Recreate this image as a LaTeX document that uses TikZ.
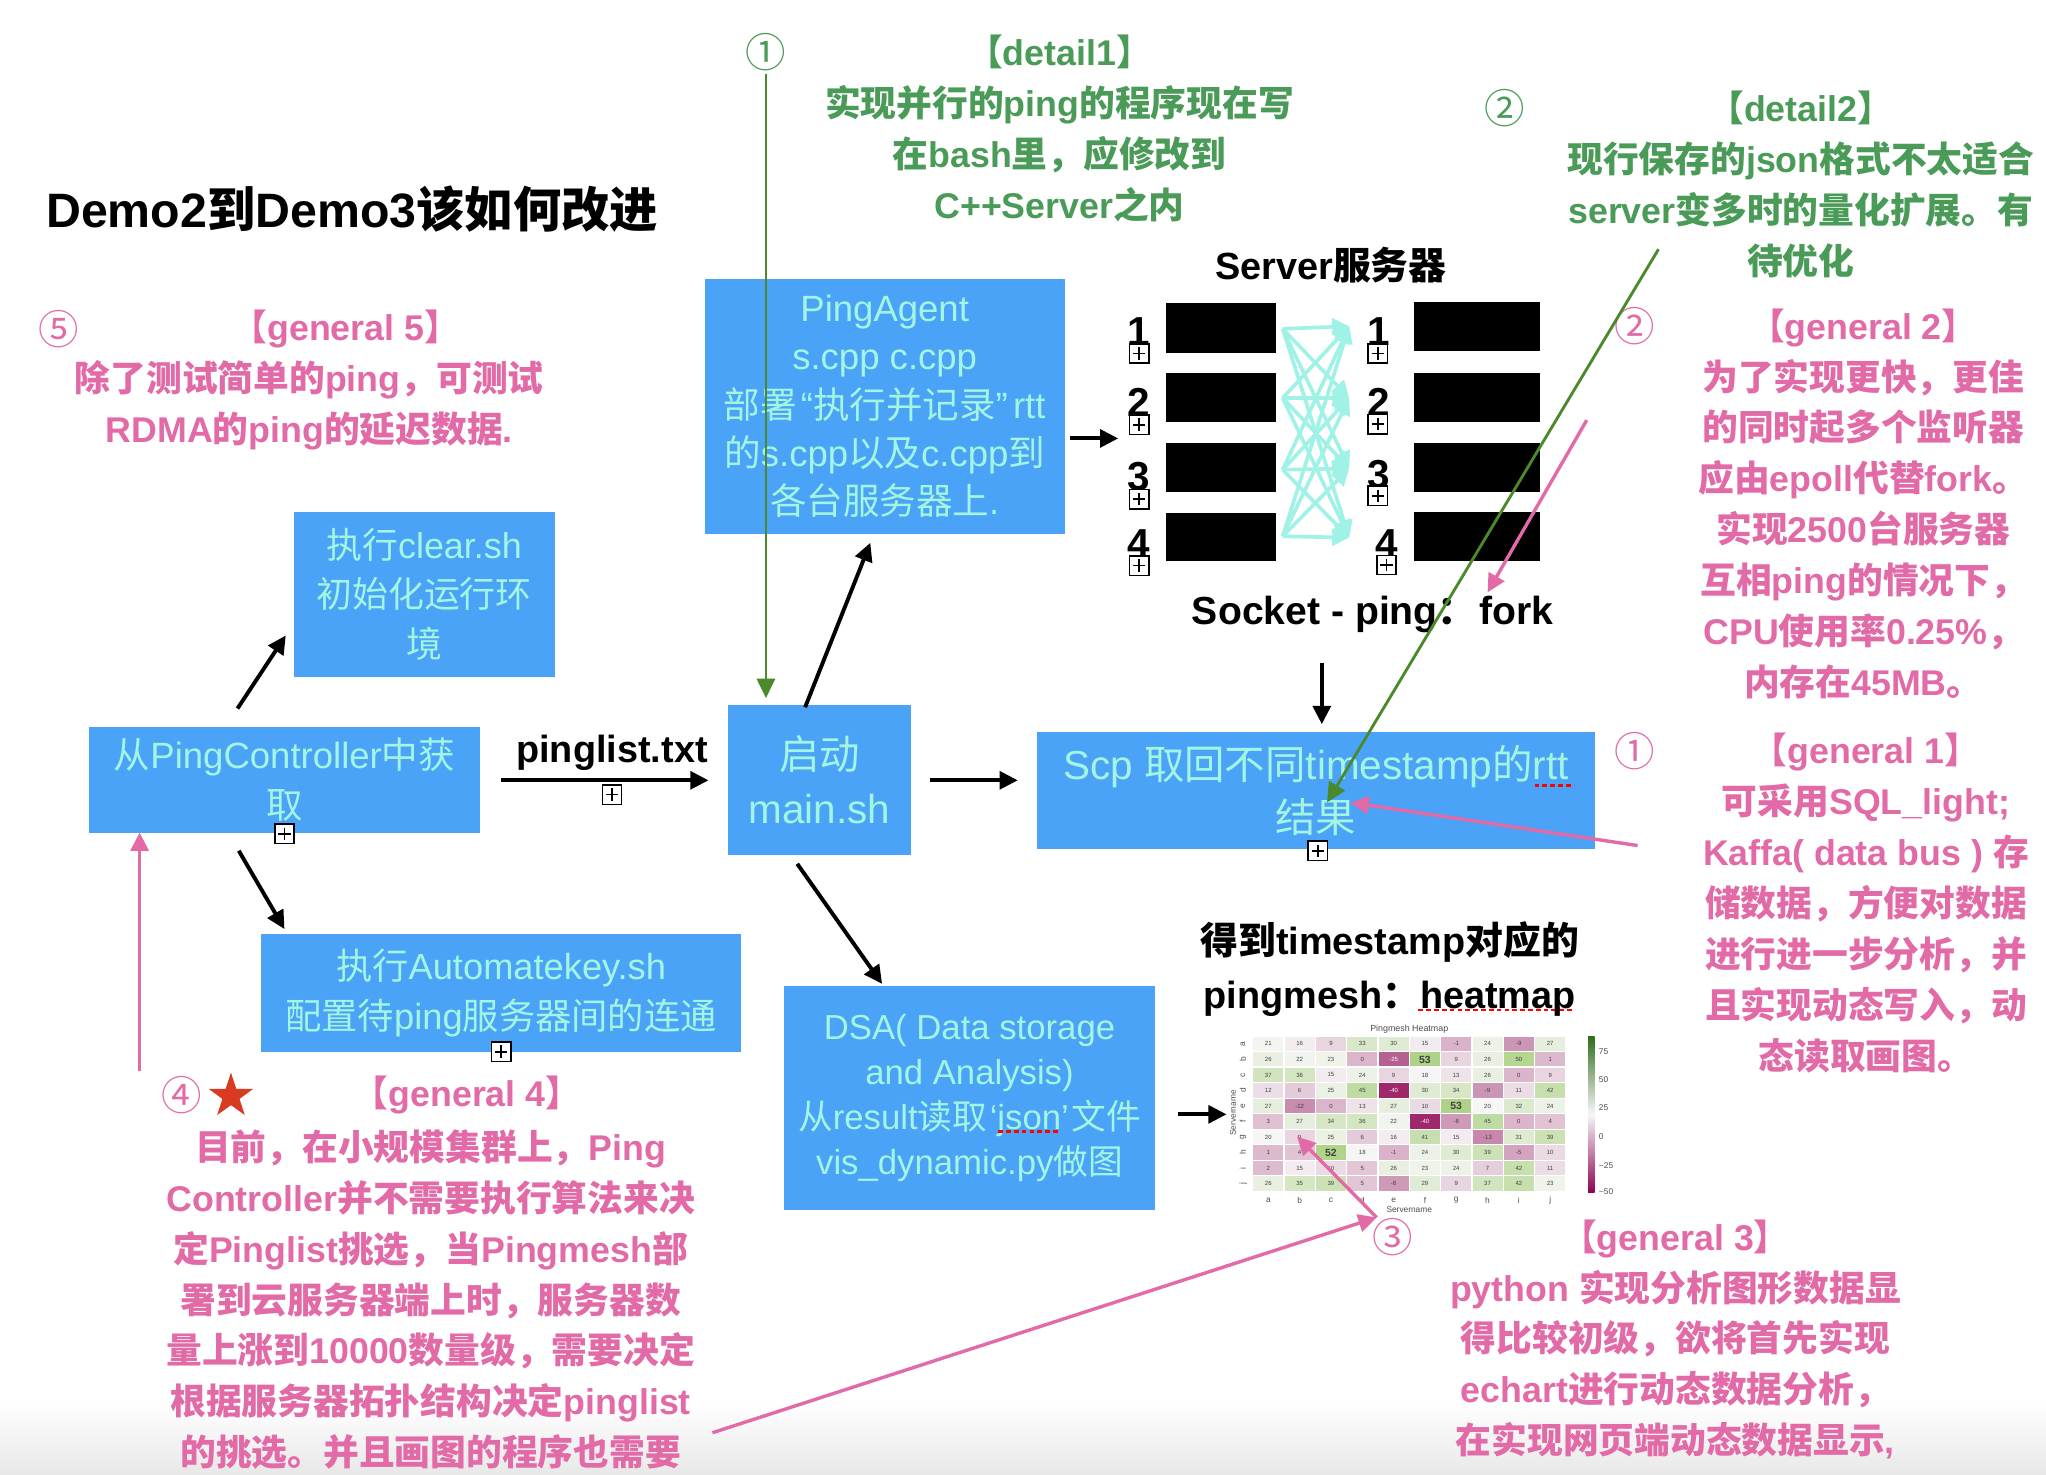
\documentclass[tikz,border=0pt]{standalone}
\usepackage{fontspec}
\setmainfont{Liberation Sans}
\newfontfamily\cjkfam{Noto Sans CJK SC}
\newfontfamily\latfam{Liberation Sans}
\usetikzlibrary{arrows.meta,shapes.geometric}
\XeTeXinterchartokenstate=1
\newXeTeXintercharclass\cjkcls
\newcount\cjkc
\newcommand\setcjkrange[2]{\cjkc=#1\relax\loop\XeTeXcharclass\cjkc=\cjkcls\relax\ifnum\cjkc<#2\relax\advance\cjkc by 1\relax\repeat}
\setcjkrange{"4E00}{"9FFF}
\setcjkrange{"3000}{"303F}
\setcjkrange{"FF00}{"FFEF}
\setcjkrange{"2460}{"2473}
\XeTeXcharclass"2018=0 \XeTeXcharclass"2019=0 \XeTeXcharclass"201C=0 \XeTeXcharclass"201D=0
\XeTeXinterchartoks 0 \cjkcls = {\cjkfam}
\XeTeXinterchartoks 4095 \cjkcls = {\cjkfam}
\XeTeXinterchartoks \cjkcls 0 = {\latfam}
\XeTeXinterchartoks \cjkcls 4095 = {\latfam}
\definecolor{boxblue}{HTML}{4AA3F6}
\definecolor{boxtext}{HTML}{A2F5E1}
\definecolor{notegreen}{HTML}{4A9A58}
\definecolor{linegreen}{HTML}{4A8A2C}
\definecolor{notepink}{HTML}{E16AA7}
\definecolor{arrowcyan}{HTML}{A0F2E6}
\definecolor{starred}{HTML}{D93A22}
\definecolor{hmwhite}{HTML}{F7F7F7}
\definecolor{hmpos}{HTML}{7FBC41}
\definecolor{hmneg}{HTML}{8E0152}
\definecolor{hmdarkpos}{HTML}{2F6D1C}
\definecolor{hmmidpos}{HTML}{A6D273}
\definecolor{hmmidneg}{HTML}{DE77AE}
\begin{document}
\begin{tikzpicture}[x=0.5pt,y=-0.5pt,
  bluebox/.style={fill=boxblue, text=boxtext, align=center, inner sep=0pt},
  note/.style={align=center, inner sep=0pt, font=\bfseries\fontsize{13.7}{19.5}\selectfont},
  pinknote/.style={note, text=notepink},
  greennote/.style={note, text=notegreen},
  blacklabel/.style={align=center, inner sep=0pt, font=\bfseries\fontsize{14.5}{20.5}\selectfont},
  circ/.style={inner sep=0pt, font=\fontsize{15.5}{15.5}\selectfont},
  digit/.style={inner sep=0pt, font=\bfseries\fontsize{15.5}{15.5}\selectfont},
  srv/.style={fill=black, inner sep=0pt},
  arr/.style={line width=1.5pt, -{Triangle[length=7pt,width=6.8pt]}},
  pinkarr/.style={draw=notepink, line width=1.3pt, -{Triangle[length=7pt,width=6.8pt]}},
  greenarr/.style={draw=linegreen, line width=1.1pt, -{Triangle[length=7.5pt,width=7pt]}},
  cyanarr/.style={draw=arrowcyan, line width=1.4pt, -{Triangle[length=6.5pt,width=6.5pt]}},
  plusbox/.style={draw, line width=0.6pt, fill=white, minimum size=7.4pt, inner sep=0pt,
    path picture={\draw[line width=0.6pt] ([yshift=-1.3pt]path picture bounding box.north) -- ([yshift=1.3pt]path picture bounding box.south)
      ([xshift=1.3pt]path picture bounding box.west) -- ([xshift=-1.3pt]path picture bounding box.east);}},
  spell/.style={draw=red, line width=1.1pt, dash pattern=on 1.8pt off 1.2pt},
  tick/.style={inner sep=0pt, text=black!70, font=\fontsize{3.2}{3.6}\selectfont},
]
\useasboundingbox (0,0) rectangle (1568,1130);
\shade[top color=white,bottom color=black!9] (0,1075) rectangle (1568,1130);

% title
\node[anchor=west, inner sep=0pt, font=\bfseries\fontsize{18.5}{20}\selectfont] (title) at (35,160) {Demo2到Demo3该如何改进};

% blue boxes
\node[bluebox, minimum width=138pt, minimum height=97.5pt, font=\fontsize{14}{18.5}\selectfont] (agent) at (678,311.5)
  {PingAgent\\s.cpp c.cpp\\部署\kern1.5pt“执行并记录”\kern2pt rtt\\的s.cpp以及c.cpp到\\各台服务器上.};
\node[bluebox, minimum width=100pt, minimum height=63.5pt, font=\fontsize{13.75}{19}\selectfont] (clear) at (325,455.5)
  {执行clear.sh\\初始化运行环\\境};
\node[bluebox, minimum width=150pt, minimum height=40.5pt, font=\fontsize{14}{19.5}\selectfont] (ctrl) at (218,597.5)
  {从PingController中获\\取};
\node[bluebox, minimum width=184pt, minimum height=45pt, font=\fontsize{13.9}{19.5}\selectfont] (auto) at (384,761)
  {执行Automatekey.sh\\配置待ping服务器间的连通};
\node[bluebox, minimum width=70pt, minimum height=57.5pt, font=\fontsize{15.5}{20.5}\selectfont] (main) at (628,597.5)
  {启动\\main.sh};
\node[bluebox, minimum width=213.5pt, minimum height=45pt, font=\fontsize{15.5}{20.5}\selectfont] (scp) at (1008.5,606)
  {Scp 取回不同timestamp的rtt\\结果};
\node[bluebox, minimum width=142pt, minimum height=85.5pt, font=\fontsize{13.3}{17.2}\selectfont] (dsa) at (743,841.5)
  {DSA( Data storage\\and Analysis)\\从result读取\kern1pt‘json’\kern1pt文件\\vis\_dynamic.py做图};

% spell-check underlines
\draw[spell] (1176,602) -- (1206,602);
\draw[spell] (765,867) -- (811,867);
\draw[spell] (1087,774) -- (1207,774);

% servers
\node[blacklabel] (srvtitle) at (1020,203) {Server服务器};
\node[srv, minimum width=42pt, minimum height=19.2pt] (sl1) at (935.5,251.2) {};
\node[srv, minimum width=42pt, minimum height=18.8pt] (sl2) at (935.5,304.5) {};
\node[srv, minimum width=42pt, minimum height=18.8pt] (sl3) at (935.5,358.2) {};
\node[srv, minimum width=42pt, minimum height=18.5pt] (sl4) at (935.5,411.5) {};
\node[srv, minimum width=48.5pt, minimum height=18.8pt] (sr1) at (1132,250.2) {};
\node[srv, minimum width=48.5pt, minimum height=18.8pt] (sr2) at (1132,304.4) {};
\node[srv, minimum width=48.5pt, minimum height=18.8pt] (sr3) at (1132,358.2) {};
\node[srv, minimum width=48.5pt, minimum height=18.8pt] (sr4) at (1132,411.2) {};
\node[digit, anchor=base] (dl1) at (873,265) {1};
\node[digit, anchor=base] (dl2) at (873,319) {2};
\node[digit, anchor=base] (dl3) at (873,376) {3};
\node[digit, anchor=base] (dl4) at (873,427) {4};
\node[digit, anchor=base] (dr1) at (1057,265) {1};
\node[digit, anchor=base] (dr2) at (1057,319) {2};
\node[digit, anchor=base] (dr3) at (1057,374) {3};
\node[digit, anchor=base] (dr4) at (1063,427) {4};
\coordinate (cl1) at (983,252); \coordinate (cl2) at (983,305);
\coordinate (cl3) at (983,360); \coordinate (cl4) at (983,411);
\coordinate (cr1) at (1034,250); \coordinate (cr2) at (1034,305);
\coordinate (cr3) at (1034,359); \coordinate (cr4) at (1034,412);
\foreach \i in {1,...,4}{\foreach \j in {1,...,4}{\draw[cyanarr] (cl\i) -- (cr\j);}}
\node[blacklabel, font=\bfseries\fontsize{15}{20}\selectfont] (socket) at (1052,471) {Socket - ping：\kern1pt fork};

% black labels
\node[blacklabel] (pinglist) at (469,577) {pinglist.txt};
\node[blacklabel] (heatlabel) at (1065,742.5) {得到timestamp对应的\\pingmesh：heatmap};

% notes green
\node[circ, text=notegreen] (g1) at (587,40) {①};
\node[greennote] (detail1) at (812,98.5) {【detail1】\\实现并行的ping的程序现在写\\在bash里，应修改到\\C++Server之内};
\node[circ, text=notegreen] (g2) at (1153,83) {②};
\node[greennote] (detail2) at (1380,141.5) {【detail2】\\现行保存的json格式不太适合\\server变多时的量化扩展。有\\待优化};

% notes pink
\node[circ, text=notepink] (p5) at (45,252) {⑤};
\node[pinknote] (gen5h) at (265,252) {【general 5】};
\node[pinknote] (gen5) at (237,310.5) {除了测试简单的ping，可测试\\RDMA的ping的延迟数据.};
\node[circ, text=notepink] (p2) at (1253,250) {②};
\node[pinknote] (gen2) at (1428,386) {【general 2】\\为了实现更快，更佳\\的同时起多个监听器\\应由epoll代替fork。\\实现2500台服务器\\互相ping的情况下，\\CPU使用率0.25\%，\\内存在45MB。};
\node[circ, text=notepink] (p1) at (1253,576) {①};
\node[pinknote] (gen1) at (1430,692) {【general 1】\\可采用SQL\_light;\\Kaffa( data bus ) 存\\储数据，方便对数据\\进行进一步分析，并\\且实现动态写入，动\\态读取画图。};
\node[circ, text=notepink] (p4) at (139,839.5) {④};
\node[star, star points=5, star point ratio=2.6, fill=starred, minimum size=18pt, inner sep=0pt] (star) at (177,840) {};
\node[pinknote] (gen4h) at (358,839) {【general 4】};
\node[pinknote] (gen4) at (330,996) {目前，在小规模集群上，Ping\\Controller并不需要执行算法来决\\定Pinglist挑选，当Pingmesh部\\署到云服务器端上时，服务器数\\量上涨到10000数量级，需要决定\\根据服务器拓扑结构决定pinglist\\的挑选。并且画图的程序也需要};
\node[circ, text=notepink] (p3) at (1067,948) {③};
\node[pinknote] (gen3) at (1284,1026.5) {【general 3】\\python 实现分析图形数据显\\得比较初级，欲将首先实现\\echart进行动态数据分析，\\在实现网页端动态数据显示,};

% heatmap
\node[tick, font=\fontsize{3.4}{4}\selectfont] (hmtitle) at (1080,788.5) {Pingmesh Heatmap};
\foreach \rowvals [count=\r from 0] in {
  {21,16,9,33,30,15,-1,24,-9,27},
  {26,22,23,0,-25,53,9,26,50,1},
  {37,36,15,24,9,18,13,26,0,9},
  {12,6,25,45,-40,30,34,-9,11,42},
  {27,-12,0,13,27,10,53,20,32,24},
  {3,27,34,36,22,-40,-8,45,0,4},
  {20,9,25,6,16,41,15,-13,31,39},
  {1,4,52,18,-1,24,30,39,-5,10},
  {2,15,10,5,26,23,24,7,42,11},
  {26,35,39,5,-8,29,9,37,42,23}}{
  \foreach \v [count=\c from 0] in \rowvals {
    \pgfmathtruncatemacro\s{(\v)<19 ? min(100,(19-(\v))*100/70) : min(100,((\v)-19)*100/55)}
    \ifnum\v<19 \colorlet{cellc}{hmneg!\s!hmwhite}\else\colorlet{cellc}{hmpos!\s!hmwhite}\fi
    \def\tc{black!75}\ifnum\v<19 \ifnum\s>60 \def\tc{white}\fi\fi
    \def\hf{\fontsize{2.3}{2.6}\selectfont}\ifnum\v>51 \def\hf{\bfseries\fontsize{4}{4.5}\selectfont}\fi
    \fill[cellc] (960.5+\c*24,794.5+\r*11.9) rectangle ++(23,10.9);
    \node[inner sep=0pt, text=\tc, font=\hf] (hm-\r-\c) at (972+\c*24,800+\r*11.9) {\v};
  }
}
\foreach \l [count=\i from 0] in {a,b,c,d,e,f,g,h,i,j}{
  \node[tick, rotate=90] (hmy\i) at (952.5,800+\i*11.9) {\l};
  \node[tick] (hmx\i) at (972+\i*24,920) {\l};
}
\node[tick, rotate=90] (hmylab) at (945,853) {Servername};
\node[tick] (hmxlab) at (1080,927) {Servername};
\shade[top color=hmdarkpos, middle color=hmmidpos, bottom color=hmwhite] (1217,794) rectangle (1222,854);
\shade[top color=hmwhite, middle color=hmmidneg, bottom color=hmneg] (1217,854) rectangle (1222,914);
\node[tick, anchor=west] (cb75) at (1225,806) {75};
\node[tick, anchor=west] (cb50) at (1225,827.6) {50};
\node[tick, anchor=west] (cb25) at (1225,849) {25};
\node[tick, anchor=west] (cb0) at (1225,871) {0};
\node[tick, anchor=west] (cbm25) at (1225,893) {−25};
\node[tick, anchor=west] (cbm50) at (1225,913) {−50};
\coordinate (hmcell) at (994,871);

% connector end points
\coordinate (ctrl-up) at (182,543);   \coordinate (clear-in) at (219,487);
\coordinate (ctrl-down) at (183,652); \coordinate (auto-in) at (218,712);
\coordinate (ctrl-out) at (384,598);  \coordinate (main-in) at (543,598);
\coordinate (main-up) at (617,542);   \coordinate (agent-in) at (667,416);
\coordinate (main-out) at (713,598);  \coordinate (scp-in) at (780,598);
\coordinate (main-down) at (611,662); \coordinate (dsa-in) at (676,754);
\coordinate (agent-out) at (820,336); \coordinate (srv-in) at (857,336);
\coordinate (socket-out) at (1013,508); \coordinate (scp-top) at (1013,555);
\coordinate (dsa-out) at (903,854);   \coordinate (hm-in) at (940,854);
\coordinate (g1-start) at (587,57);   \coordinate (main-top) at (587,535);
\coordinate (d2-start) at (1271,191); \coordinate (scp-mid) at (1017,615);
\coordinate (g2-start) at (1216,322); \coordinate (fork-in) at (1140,454);
\coordinate (g1p-start) at (1255,648); \coordinate (scp-res) at (1035,615);
\coordinate (g4-start) at (546,1098); \coordinate (c3-in) at (1055,933);
\coordinate (g4-up) at (107,821);     \coordinate (ctrl-bottom) at (107,638);

\draw[arr] (ctrl-up) -- (clear-in);
\draw[arr] (ctrl-down) -- (auto-in);
\draw[arr] (ctrl-out) -- (main-in);
\draw[arr] (main-up) -- (agent-in);
\draw[arr] (main-out) -- (scp-in);
\draw[arr] (main-down) -- (dsa-in);
\draw[arr] (agent-out) -- (srv-in);
\draw[arr] (socket-out) -- (scp-top);
\draw[arr] (dsa-out) -- (hm-in);
\draw[greenarr] (g1-start) -- (main-top);
\draw[greenarr] (d2-start) -- (scp-mid);
\draw[pinkarr] (g2-start) -- (fork-in);
\draw[pinkarr] (g1p-start) -- (scp-res);
\draw[pinkarr] (g4-start) -- (c3-in);
\draw[pinkarr] (c3-in) -- (hmcell);
\draw[pinkarr] (g4-up) -- (ctrl-bottom);

% plus boxes
\node[plusbox] (pb1) at (873,271) {};
\node[plusbox] (pb2) at (873,325.5) {};
\node[plusbox] (pb3) at (873,382.5) {};
\node[plusbox] (pb4) at (873,433.5) {};
\node[plusbox] (pb5) at (1056,271) {};
\node[plusbox] (pb6) at (1056,325) {};
\node[plusbox] (pb7) at (1056,380) {};
\node[plusbox] (pb8) at (1062.6,433) {};
\node[plusbox] (pb9) at (469,609) {};
\node[plusbox] (pb10) at (218,639) {};
\node[plusbox] (pb11) at (384,806) {};
\node[plusbox] (pb12) at (1010,652) {};
\end{tikzpicture}
\end{document}
